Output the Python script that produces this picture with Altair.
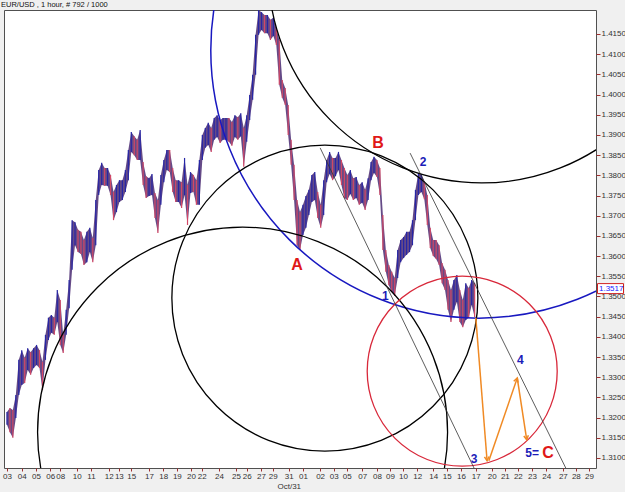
import json
import math
import altair as alt
import pandas as pd

TITLE = "EUR/USD , 1 hour, # 792 / 1000"
CURRENT_PRICE = 1.3517
CURRENT_LABEL = "1.3517"

# hourly bars (bar number, grouped ~5 bars), high / low
bar_index = list(range(5, 800, 5))
bar_high = [
    1.3214, 1.3224, 1.3219, 1.3256, 1.3343, 1.3367, 1.3348, 1.3372, 1.3362, 1.3372,
    1.3380, 1.3367, 1.3338, 1.3405, 1.3447, 1.3454, 1.3447, 1.3516, 1.3491, 1.3405,
    1.3467, 1.3541, 1.3689, 1.3684, 1.3665, 1.3660, 1.3640, 1.3660, 1.3670, 1.3645,
    1.3739, 1.3813, 1.3831, 1.3818, 1.3818, 1.3801, 1.3759, 1.3776, 1.3788, 1.3788,
    1.3813, 1.3863, 1.3907, 1.3897, 1.3888, 1.3912, 1.3833, 1.3798, 1.3793, 1.3803,
    1.3756, 1.3739, 1.3801, 1.3838, 1.3863, 1.3863, 1.3818, 1.3788, 1.3788, 1.3783,
    1.3843, 1.3776, 1.3808, 1.3801, 1.3788, 1.3838, 1.3900, 1.3917, 1.3930, 1.3917,
    1.3942, 1.3949, 1.3937, 1.3942, 1.3942, 1.3942, 1.3932, 1.3949, 1.3944, 1.3954,
    1.3917, 1.3949, 1.3999, 1.4049, 1.4148, 1.4209, 1.4204, 1.4197, 1.4197, 1.4185,
    1.4190, 1.4165, 1.4135, 1.4036, 1.4016, 1.3974, 1.3888, 1.3826, 1.3739, 1.3709,
    1.3727, 1.3749, 1.3764, 1.3801, 1.3808, 1.3759, 1.3727, 1.3788, 1.3838, 1.3858,
    1.3843, 1.3843, 1.3858, 1.3838, 1.3818, 1.3801, 1.3813, 1.3793, 1.3796, 1.3776,
    1.3783, 1.3764, 1.3793, 1.3833, 1.3846, 1.3838, 1.3818, 1.3702, 1.3615, 1.3578,
    1.3561, 1.3546, 1.3615, 1.3640, 1.3647, 1.3660, 1.3660, 1.3689, 1.3764, 1.3806,
    1.3803, 1.3786, 1.3751, 1.3670, 1.3640, 1.3640, 1.3627, 1.3583, 1.3566, 1.3541,
    1.3516, 1.3541, 1.3553, 1.3516, 1.3491, 1.3533, 1.3521, 1.3541, 1.3533,
]
bar_low = [
    1.3182, 1.3164, 1.3150, 1.3199, 1.3256, 1.3281, 1.3286, 1.3318, 1.3306, 1.3323,
    1.3330, 1.3323, 1.3268, 1.3343, 1.3392, 1.3410, 1.3405, 1.3437, 1.3380, 1.3360,
    1.3405, 1.3471, 1.3566, 1.3627, 1.3610, 1.3605, 1.3578, 1.3585, 1.3610, 1.3585,
    1.3627, 1.3751, 1.3776, 1.3774, 1.3774, 1.3751, 1.3689, 1.3709, 1.3734, 1.3739,
    1.3759, 1.3788, 1.3858, 1.3850, 1.3838, 1.3838, 1.3776, 1.3744, 1.3749, 1.3751,
    1.3694, 1.3657, 1.3727, 1.3783, 1.3813, 1.3808, 1.3759, 1.3734, 1.3734, 1.3719,
    1.3751, 1.3677, 1.3756, 1.3759, 1.3727, 1.3727, 1.3838, 1.3868, 1.3875, 1.3858,
    1.3888, 1.3895, 1.3880, 1.3888, 1.3888, 1.3883, 1.3873, 1.3895, 1.3888, 1.3897,
    1.3821, 1.3883, 1.3937, 1.3987, 1.4049, 1.4148, 1.4160, 1.4152, 1.4152, 1.4135,
    1.4145, 1.4123, 1.4024, 1.3992, 1.3974, 1.3900, 1.3826, 1.3739, 1.3627, 1.3615,
    1.3652, 1.3670, 1.3702, 1.3734, 1.3739, 1.3694, 1.3670, 1.3702, 1.3783, 1.3803,
    1.3788, 1.3798, 1.3813, 1.3776, 1.3744, 1.3739, 1.3754, 1.3739, 1.3744, 1.3727,
    1.3732, 1.3714, 1.3739, 1.3788, 1.3806, 1.3796, 1.3751, 1.3615, 1.3561, 1.3528,
    1.3511, 1.3501, 1.3546, 1.3585, 1.3595, 1.3603, 1.3610, 1.3627, 1.3689, 1.3751,
    1.3759, 1.3741, 1.3677, 1.3620, 1.3600, 1.3593, 1.3578, 1.3533, 1.3516, 1.3467,
    1.3437, 1.3467, 1.3486, 1.3437, 1.3424, 1.3442, 1.3447, 1.3479, 1.3449,
]

# date ticks on the bar axis
x_ticks = [5, 30, 54, 78, 95, 123, 147, 177, 194, 215, 245, 269, 292, 316, 334,
           363, 392, 410, 434, 454, 481, 505, 534, 557, 579, 605, 630, 652, 674,
           698, 725, 748, 772, 797, 824, 846, 868, 892, 916, 944, 966, 988]
x_labels = ["03", "04", "05", "06", "08", "10", "11", "12", "13", "15", "17", "18",
            "19", "20", "22", "24", "25", "26", "27", "29", "31", "01", "02", "03",
            "05", "07", "08", "09", "10", "12", "14", "15", "16", "17", "20", "21",
            "22", "23", "24", "27", "28", "29"]
month_note = {20: "Oct/31"}  # index in x_labels -> second line

y_ticks = [1.3100, 1.3150, 1.3200, 1.3250, 1.3300, 1.3350, 1.3400, 1.3450, 1.3500,
           1.3550, 1.3600, 1.3650, 1.3700, 1.3750, 1.3800, 1.3850, 1.3900, 1.3950,
           1.4000, 1.4050, 1.4100, 1.4150]

X_DOMAIN = [0, 1000]
Y_DOMAIN = [1.30752, 1.42094]

# circles (centre bar, centre price)
circ_bar = [802, 807, 542, 403, 774]
circ_price = [1.4110, 1.4310, 1.3496, 1.3164, 1.3315]

# channel lines
chan_bar1 = [534, 686]
chan_price1 = [1.3868, 1.3855]
chan_bar2 = [794, 949]
chan_price2 = [1.3075, 1.3075]

# projected path (orange arrows)
arr_bar1 = [797, 819, 867]
arr_price1 = [1.3447, 1.3093, 1.3298]
arr_bar2 = [816, 867, 883]
arr_price2 = [1.3093, 1.3298, 1.3145]

# wave labels
big_text = ["A", "B", "C"]
big_bar = [495, 632, 919]
big_price = [1.3578, 1.3880, 1.3112]
num_text = ["1", "2", "3", "4", "5="]
num_bar = [644, 708, 794, 872, 892]
num_price = [1.3501, 1.3833, 1.3098, 1.3343, 1.3112]

W, H = 592, 458

xs = alt.Scale(domain=X_DOMAIN, nice=False, zero=False)
ys = alt.Scale(domain=Y_DOMAIN, nice=False, zero=False)

lab_items = []
for i, l in enumerate(x_labels):
    lab_items.append([l, month_note[i]] if i in month_note else l)
label_expr = f"{json.dumps(lab_items)}[indexof({json.dumps(x_ticks)}, datum.value)]"

x_axis = alt.Axis(values=x_ticks, labelExpr=label_expr, orient="bottom", tickSize=3,
                  tickColor="#a03030", domain=False, grid=False, labelFontSize=8,
                  labelColor="#333333", labelPadding=1, labelBaseline="top",
                  labelLineHeight=10, labelOverlap=False, labelFlush=False,
                  labelBound=False, title=None)
y_axis = alt.Axis(values=y_ticks, format=".4f", orient="right", tickSize=4,
                  tickColor="#a03030", domain=False, grid=False, labelFontSize=8,
                  labelColor="#333333", labelPadding=1, labelOverlap=False,
                  labelFlush=False, labelBound=False, title=None)


def X(f):
    return alt.X(f, type="quantitative", scale=xs, axis=x_axis)


def Y(f):
    return alt.Y(f, type="quantitative", scale=ys, axis=y_axis)


price = pd.DataFrame({"bar": bar_index, "high": bar_high, "low": bar_low})
mid = (price["high"] + price["low"]) / 2
price["dir"] = ["up" if d >= 0 else "down" for d in mid.diff().fillna(0)]

band = alt.Chart(price).mark_area(color="#4a2a72", opacity=0.85).encode(
    x=X("bar"), y=Y("low"), y2="high")
rules = alt.Chart(price).mark_rule(strokeWidth=1.2).encode(
    x=X("bar"), y=Y("low"), y2="high",
    color=alt.Color("dir:N", scale=alt.Scale(domain=["up", "down"],
                                             range=["#2626a6", "#d24866"]), legend=None))

circle_style = [(536, "#1818c0", 1.5), (427, "#000000", 1.3), (306, "#000000", 1.3),
                (410, "#000000", 1.3), (190, "#d8283a", 1.3)]
circles = []
for i, (d, c, sw) in enumerate(circle_style):
    df = pd.DataFrame({"bar": [circ_bar[i]], "price": [circ_price[i]]})
    circles.append(alt.Chart(df).mark_point(shape="circle", size=d * d, filled=False,
                                            color=c, strokeWidth=sw, opacity=1,
                                            clip=True).encode(x=X("bar"), y=Y("price")))

chan = pd.DataFrame({"b1": chan_bar1, "p1": chan_price1, "b2": chan_bar2, "p2": chan_price2})
chan_layer = alt.Chart(chan).mark_rule(color="#333333", strokeWidth=0.8, clip=True).encode(
    x=X("b1"), y=Y("p1"), x2="b2", y2="p2")

sx = W / (X_DOMAIN[1] - X_DOMAIN[0])
sy = H / (Y_DOMAIN[1] - Y_DOMAIN[0])
arr = pd.DataFrame({"b1": arr_bar1, "p1": arr_price1, "b2": arr_bar2, "p2": arr_price2})
arr["ang"] = [math.degrees(math.atan2((b2 - b1) * sx, (p2 - p1) * sy)) % 360
              for b1, p1, b2, p2 in zip(arr_bar1, arr_price1, arr_bar2, arr_price2)]
arr_layer = alt.Chart(arr).mark_rule(color="#f08a24", strokeWidth=1.5).encode(
    x=X("b1"), y=Y("p1"), x2="b2", y2="p2")
head_layer = alt.Chart(arr).mark_point(
    shape="M-0.55,1 L0,0 L0.55,1", size=70, filled=False, color="#f08a24",
    strokeWidth=1.5, opacity=1).encode(
    x=X("b2"), y=Y("p2"), angle=alt.Angle("ang:Q", scale=None))

big_df = pd.DataFrame({"t": big_text, "bar": big_bar, "price": big_price})
big_layer = alt.Chart(big_df).mark_text(fontSize=16, fontWeight="bold", color="#e01818",
                                        font="Liberation Sans").encode(
    x=X("bar"), y=Y("price"), text="t:N")
num_df = pd.DataFrame({"t": num_text, "bar": num_bar, "price": num_price})
num_layer = alt.Chart(num_df).mark_text(fontSize=12, fontWeight="bold", color="#1c1cb8",
                                        font="Liberation Sans").encode(
    x=X("bar"), y=Y("price"), text="t:N")

cur = pd.DataFrame({"bar": [X_DOMAIN[1]], "price": [CURRENT_PRICE], "t": [CURRENT_LABEL]})
cur_box = alt.Chart(cur).mark_rect(fill="white", stroke="#d02020", strokeWidth=1,
                                   xOffset=1.5, x2Offset=27.5, yOffset=-6, y2Offset=4).encode(
    x=X("bar"), x2="bar", y=Y("price"), y2="price")
cur_text = alt.Chart(cur).mark_text(align="left", baseline="middle", dx=3, dy=-1, fontSize=8,
                                    color="#2020ff").encode(x=X("bar"), y=Y("price"), text="t:N")

title_df = pd.DataFrame({"t": [TITLE]})
title_layer = alt.Chart(title_df).mark_text(align="left", baseline="middle", fontSize=7.5,
                                            color="#111111").encode(
    x=alt.value(-3), y=alt.value(-5), text="t:N")

chart = alt.layer(
    band, rules, *circles, chan_layer, arr_layer, head_layer, big_layer, num_layer,
    cur_box, cur_text, title_layer
).properties(
    width=W, height=H,
    padding={"left": 4, "top": 10, "right": 29, "bottom": 24},
    autosize=alt.AutoSizeParams(type="none"),
    background="#f0f0f0",
).configure(
    font="Liberation Sans",
    view=alt.ViewConfig(fill="white", stroke="#505050", strokeWidth=1),
)

chart.save("out.html", embed_options={"renderer": "svg", "actions": False})
